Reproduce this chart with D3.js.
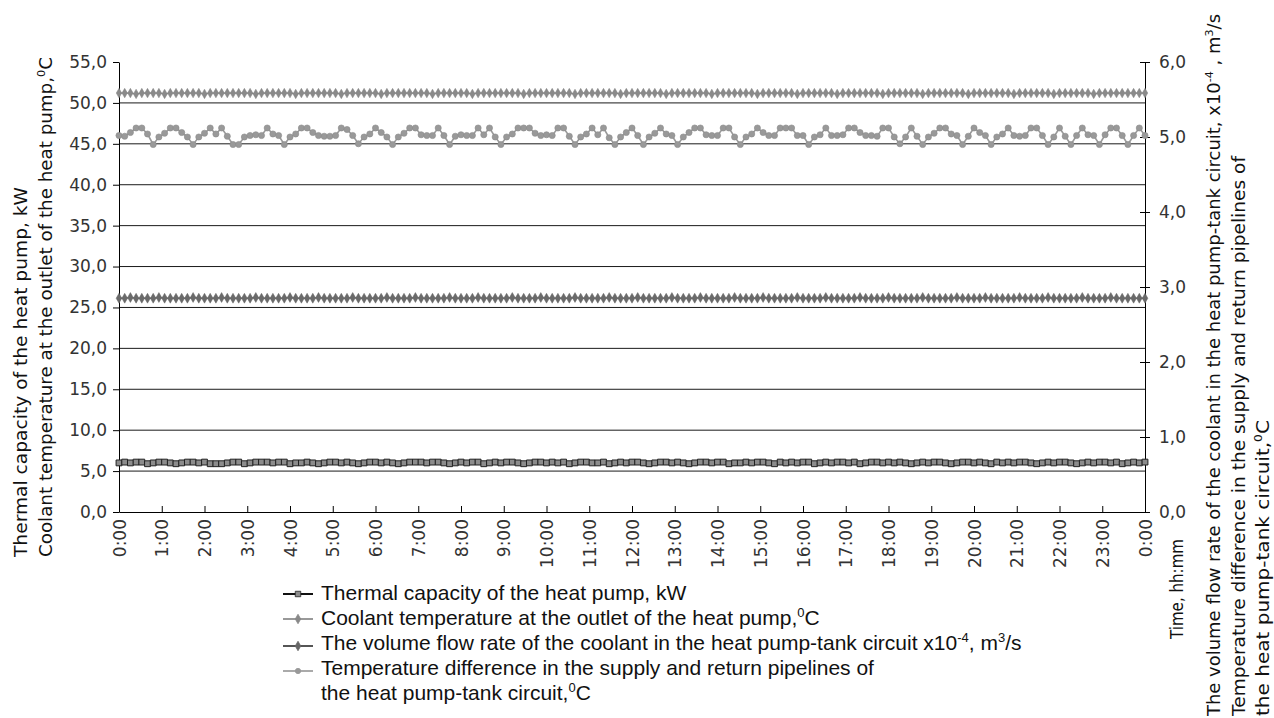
<!DOCTYPE html>
<html>
<head>
<meta charset="utf-8">
<script src="https://cdn.jsdelivr.net/npm/d3@7/dist/d3.min.js"></script>
<style>
  html, body { margin: 0; padding: 0; background: #fff; }
  svg { display: block; }
</style>
</head>
<body>
<svg id="chart" width="1274" height="718"></svg>
<script>
// ---------------- DATA ----------------
const hourLabels = ["0:00","1:00","2:00","3:00","4:00","5:00","6:00","7:00","8:00","9:00","10:00","11:00",
  "12:00","13:00","14:00","15:00","16:00","17:00","18:00","19:00","20:00","21:00","22:00","23:00","0:00"];
const leftTicks = [0,5,10,15,20,25,30,35,40,45,50,55];
const rightTicks = [0,1,2,3,4,5,6];
const stepMinutes = 8; // sampling interval, minutes

// Thermal capacity of the heat pump, kW (left axis)
const capacity = [
6.0,6.1,6.0,6.1,6.1,5.9,6.0,6.1,6.1,6.0,5.9,6.0,6.1,6.1,6.0,6.1,5.9,5.9,5.9,6.0,
6.1,6.1,5.9,6.0,6.1,6.1,6.1,6.0,6.1,6.1,5.9,6.0,6.0,6.1,6.0,5.9,6.0,6.1,6.1,6.0,
6.1,6.0,5.9,6.0,6.1,6.1,6.0,6.1,6.0,5.9,6.0,6.1,6.1,6.1,6.0,6.1,6.1,6.0,5.9,6.0,
6.1,6.0,6.1,6.1,5.9,6.0,6.1,6.0,6.1,6.1,6.0,5.9,6.0,6.1,6.1,6.0,6.1,6.0,6.1,5.9,
6.0,6.1,6.1,6.0,6.0,6.1,5.9,6.0,6.1,6.0,6.1,6.1,6.0,5.9,6.0,6.1,6.1,6.0,6.1,6.0,
5.9,6.0,6.1,6.1,6.0,6.1,6.1,5.9,6.0,6.0,6.1,6.0,6.1,6.1,6.0,5.9,6.1,6.0,6.1,6.0,
6.1,6.1,5.9,6.0,6.1,6.0,6.1,6.1,6.0,6.1,5.9,6.0,6.1,6.1,6.0,6.1,6.0,6.1,6.0,5.9,
6.0,6.1,6.0,6.1,6.1,6.0,5.9,6.0,6.1,6.1,6.0,6.1,6.0,5.9,6.1,6.0,6.1,6.0,6.1,6.1,
6.0,5.9,6.0,6.1,6.0,6.1,6.1,6.0,5.9,6.0,6.1,6.0,6.1,6.1,6.0,6.1,5.9,6.0,6.1,6.0,
6.1];

// Coolant temperature at the outlet of the heat pump, °C (left axis)
const coolantTemp = [
51.2,51.2,51.2,51.1,51.2,51.2,51.2,51.2,51.1,51.2,51.2,51.2,51.2,51.2,51.2,51.1,51.2,51.2,51.2,51.2,
51.2,51.2,51.2,51.2,51.1,51.2,51.2,51.2,51.2,51.2,51.2,51.1,51.2,51.2,51.2,51.2,51.2,51.2,51.2,51.1,
51.2,51.2,51.2,51.2,51.2,51.2,51.1,51.2,51.2,51.2,51.2,51.2,51.2,51.2,51.2,51.1,51.2,51.2,51.2,51.2,
51.2,51.2,51.1,51.2,51.2,51.2,51.2,51.2,51.2,51.2,51.2,51.1,51.2,51.2,51.2,51.2,51.2,51.2,51.2,51.2,
51.1,51.2,51.2,51.2,51.2,51.2,51.2,51.2,51.1,51.2,51.2,51.2,51.2,51.2,51.2,51.2,51.1,51.2,51.2,51.2,
51.2,51.2,51.2,51.2,51.1,51.2,51.2,51.2,51.2,51.2,51.2,51.2,51.1,51.2,51.2,51.2,51.2,51.2,51.2,51.1,
51.2,51.2,51.2,51.2,51.2,51.2,51.1,51.2,51.2,51.2,51.2,51.2,51.2,51.2,51.1,51.2,51.2,51.2,51.2,51.2,
51.2,51.1,51.2,51.2,51.2,51.2,51.2,51.2,51.2,51.1,51.2,51.2,51.2,51.2,51.2,51.2,51.2,51.1,51.2,51.2,
51.2,51.2,51.2,51.2,51.1,51.2,51.2,51.2,51.2,51.2,51.2,51.1,51.2,51.2,51.2,51.2,51.2,51.2,51.2,51.2,
51.2];

// Volume flow rate in the heat pump-tank circuit, x10^-4 m3/s (right axis)
const flowRate = [
2.85,2.85,2.86,2.85,2.85,2.85,2.85,2.86,2.85,2.85,2.85,2.85,2.85,2.86,2.85,2.85,2.85,2.85,2.86,2.85,
2.85,2.85,2.85,2.85,2.86,2.85,2.85,2.85,2.85,2.85,2.86,2.85,2.85,2.85,2.85,2.86,2.85,2.85,2.85,2.85,
2.85,2.86,2.85,2.85,2.85,2.85,2.85,2.86,2.85,2.85,2.85,2.85,2.86,2.85,2.85,2.85,2.85,2.85,2.86,2.85,
2.85,2.85,2.85,2.86,2.85,2.85,2.85,2.85,2.85,2.86,2.85,2.85,2.85,2.85,2.86,2.85,2.85,2.85,2.85,2.85,
2.86,2.85,2.85,2.85,2.85,2.85,2.86,2.85,2.85,2.85,2.85,2.86,2.85,2.85,2.85,2.85,2.85,2.86,2.85,2.85,
2.85,2.85,2.86,2.85,2.85,2.85,2.85,2.85,2.86,2.85,2.85,2.85,2.85,2.86,2.85,2.85,2.85,2.85,2.85,2.86,
2.85,2.85,2.85,2.85,2.86,2.85,2.85,2.85,2.85,2.85,2.86,2.85,2.85,2.85,2.85,2.86,2.85,2.85,2.85,2.85,
2.85,2.86,2.85,2.85,2.85,2.85,2.85,2.86,2.85,2.85,2.85,2.85,2.86,2.85,2.85,2.85,2.85,2.85,2.86,2.85,
2.85,2.85,2.85,2.86,2.85,2.85,2.85,2.85,2.85,2.86,2.85,2.85,2.85,2.85,2.86,2.85,2.85,2.85,2.85,2.85,
2.85];

// Temperature difference in supply/return pipelines, °C (right axis)
const tempDiff = [
5.02,5.01,5.06,5.12,5.12,5.04,4.90,5.00,5.05,5.12,5.12,5.06,5.00,4.90,5.00,5.05,5.12,5.04,5.12,5.01,
4.90,4.90,5.00,5.02,5.03,5.02,5.12,5.04,5.02,4.90,5.00,5.04,5.12,5.12,5.06,5.02,5.01,5.01,5.02,5.12,
5.10,5.02,4.91,5.00,5.04,5.12,5.06,5.00,4.90,5.00,5.05,5.12,5.12,5.03,5.02,5.02,5.12,5.02,4.90,5.01,
5.03,5.02,5.02,5.12,5.03,5.12,5.00,4.90,5.00,5.04,5.12,5.12,5.12,5.05,5.02,5.03,5.02,5.12,5.12,5.01,
4.90,5.00,5.04,5.12,5.03,5.12,4.99,4.90,5.00,5.06,5.12,5.02,4.90,5.00,5.05,5.12,5.04,5.02,4.90,5.00,
5.06,5.12,5.12,5.03,5.02,5.02,5.12,5.12,5.00,4.90,5.00,5.04,5.12,5.06,5.02,5.02,5.12,5.12,5.12,5.02,
5.02,4.90,5.00,5.03,5.12,5.02,5.02,5.03,5.12,5.12,5.06,5.02,5.02,5.01,5.12,5.12,5.00,4.91,5.00,5.12,
5.01,4.90,5.00,5.05,5.12,5.12,5.04,5.02,4.90,5.01,5.12,5.06,5.02,4.90,5.00,5.04,5.12,5.02,5.01,5.02,
5.12,5.12,5.02,4.90,5.00,5.12,5.01,4.90,5.02,5.12,5.03,5.02,4.90,5.03,5.12,5.12,5.02,4.90,5.02,5.12,
5.02];

// ---------------- CHART ----------------
const svg = d3.select("#chart");
const plot = {left: 119, right: 1145, top: 62, bottom: 512};
const tickFont = "'DejaVu Sans', Verdana, sans-serif";
const legendFont = "'Liberation Sans', Arial, sans-serif";

const times = capacity.map((_, i) => i * stepMinutes);

const x = d3.scaleLinear().domain([0, 1440]).range([plot.left, plot.right]);
const yL = d3.scaleLinear().domain([0, 55]).range([plot.bottom, plot.top]);
const yR = d3.scaleLinear().domain([0, 6]).range([plot.bottom, plot.top]);
const fmt = d => d.toFixed(1).replace(".", ",");

// gridlines
svg.append("g").selectAll("line")
  .data(leftTicks.filter(d => d > 0 && d < 55))
  .join("line")
  .attr("x1", plot.left).attr("x2", plot.right)
  .attr("y1", d => yL(d)).attr("y2", d => yL(d))
  .attr("stroke", "#1a1a1a").attr("stroke-width", 1);

// left axis
const gL = svg.append("g").attr("transform", `translate(${plot.left},0)`)
  .call(d3.axisLeft(yL).tickValues(leftTicks).tickFormat(fmt).tickSize(6).tickSizeOuter(0).tickPadding(6));
gL.selectAll("text").attr("font-family", tickFont).attr("font-size", 17).attr("fill", "#333");
gL.selectAll("line,path").attr("stroke", "#000");

// right axis
const gR = svg.append("g").attr("transform", `translate(${plot.right},0)`)
  .call(d3.axisRight(yR).tickValues(rightTicks).tickFormat(fmt).tickSize(5).tickSizeOuter(0).tickPadding(9));
gR.selectAll(".tick line").attr("x1", -5);
gR.selectAll("text").attr("font-family", tickFont).attr("font-size", 17).attr("fill", "#333");
gR.selectAll("line,path").attr("stroke", "#000");

// bottom axis
const hourVals = hourLabels.map((_, i) => i * 60);
const gB = svg.append("g").attr("transform", `translate(0,${plot.bottom})`)
  .call(d3.axisBottom(x).tickValues(hourVals).tickFormat((d, i) => hourLabels[i]).tickSize(-6).tickSizeOuter(0));
gB.selectAll("line,path").attr("stroke", "#000");
gB.selectAll("text")
  .attr("font-family", tickFont).attr("font-size", 17).attr("fill", "#333")
  .attr("transform", "rotate(-90)")
  .attr("text-anchor", "end")
  .attr("x", -7).attr("y", 0).attr("dy", "0.36em");

// series
function drawSeries(values, yScale, opt) {
  const g = svg.append("g");
  const line = d3.line().x((d, i) => x(times[i])).y(d => yScale(d));
  g.append("path").datum(values).attr("d", line)
    .attr("fill", "none").attr("stroke", opt.line).attr("stroke-width", opt.lw);
  const sym = d3.symbol().type(opt.symbol).size(opt.size);
  g.selectAll("path.m").data(values).join("path").attr("class", "m")
    .attr("transform", (d, i) => `translate(${x(times[i])},${yScale(d)})`)
    .attr("d", sym)
    .attr("fill", opt.fill).attr("stroke", opt.stroke).attr("stroke-width", opt.sw);
}

drawSeries(tempDiff, yR, {line: "#9a9a9a", lw: 1.6, symbol: d3.symbolCircle, size: 30, fill: "#999", stroke: "#8c8c8c", sw: 0.6});
drawSeries(flowRate, yR, {line: "#6a6a6a", lw: 1.4, symbol: d3.symbolDiamond, size: 28, fill: "#6a6a6a", stroke: "#666", sw: 0.5});
drawSeries(coolantTemp, yL, {line: "#888", lw: 1.4, symbol: d3.symbolDiamond, size: 26, fill: "#8a8a8a", stroke: "#858585", sw: 0.5});
drawSeries(capacity, yL, {line: "#111", lw: 1, symbol: d3.symbolSquare, size: 34, fill: "#8c8c8c", stroke: "#222", sw: 1});

// rich text helper: parts = [[text, "sup"|null]]
function rich(sel, parts, fs) {
  let pending = 0;
  parts.forEach(([t, s]) => {
    const sp = sel.append("tspan").text(t);
    if (s === "sup") {
      sp.attr("font-size", fs * 0.62).attr("dy", -fs * 0.38 + pending);
      pending = fs * 0.38;
    } else {
      if (pending) sp.attr("dy", pending);
      pending = 0;
    }
  });
}

// axis titles (rotated, reading bottom to top)
function vTitle(xPos, yPos, parts, len, fs) {
  const t = svg.append("text")
    .attr("transform", `translate(${xPos},${yPos}) rotate(-90)`)
    .attr("font-family", tickFont).attr("font-size", fs).attr("fill", "#111")
    .attr("textLength", len).attr("lengthAdjust", "spacingAndGlyphs");
  rich(t, parts, fs);
  return t;
}
vTitle(27, 557, [["Thermal capacity of the heat pump, kW"]], 370, 18);
vTitle(52, 557, [["Coolant temperature at the outlet of the heat pump,"], ["0", "sup"], ["C"]], 500, 18);
vTitle(1183, 639, [["Time, hh:mm"]], 100, 17.5);
vTitle(1220, 716, [["The volume flow rate of the coolant in the heat pump-tank circuit, x10"], ["-4", "sup"], [" , m"], ["3", "sup"], ["/s"]], 702, 18);
vTitle(1245, 716, [["Temperature difference in the supply and return pipelines of"]], 560, 18);
vTitle(1269, 716, [["the heat pump-tank circuit,"], ["0", "sup"], ["C"]], 296, 18);

// legend
const legendFs = 21;
const legendTextX = 321;
const legendItems = [
  {label: [["Thermal capacity of the heat pump, kW"]], line: "#111", symbol: d3.symbolSquare, size: 30, fill: "#8c8c8c", stroke: "#222"},
  {label: [["Coolant temperature at the outlet of the heat pump,"], ["0", "sup"], ["C"]], line: "#999", symbol: d3.symbolDiamond, size: 26, fill: "#888", stroke: "#888"},
  {label: [["The volume flow rate of the coolant in the heat pump-tank circuit  x10"], ["-4", "sup"], [", m"], ["3", "sup"], ["/s"]], line: "#555", symbol: d3.symbolDiamond, size: 26, fill: "#666", stroke: "#666"},
  {label: [["Temperature difference in the supply and return pipelines of"]], line: "#aaa", symbol: d3.symbolCircle, size: 22, fill: "#999", stroke: "#999"}
];
const legendY0 = 593, legendDy = 25, lgX = 283;
const lg = svg.append("g");
legendItems.forEach((it, i) => {
  const yy = legendY0 + i * legendDy + (i >= 2 ? 3 : 1);
  lg.append("line").attr("x1", lgX).attr("x2", lgX + 30).attr("y1", yy).attr("y2", yy)
    .attr("stroke", it.line).attr("stroke-width", 2);
  lg.append("path").attr("transform", `translate(${lgX + 15},${yy})`)
    .attr("d", d3.symbol().type(it.symbol).size(it.size)())
    .attr("fill", it.fill).attr("stroke", it.stroke).attr("stroke-width", 0.8);
  const t = lg.append("text").attr("x", legendTextX).attr("y", legendY0 + i * legendDy + 7)
    .attr("font-family", legendFont).attr("font-size", legendFs).attr("fill", "#111");
  rich(t, it.label, legendFs);
});
const t5 = lg.append("text").attr("x", legendTextX).attr("y", legendY0 + 4 * legendDy + 7)
  .attr("font-family", legendFont).attr("font-size", legendFs).attr("fill", "#111");
rich(t5, [["the heat pump-tank circuit,"], ["0", "sup"], ["C"]], legendFs);
</script>
</body>
</html>
